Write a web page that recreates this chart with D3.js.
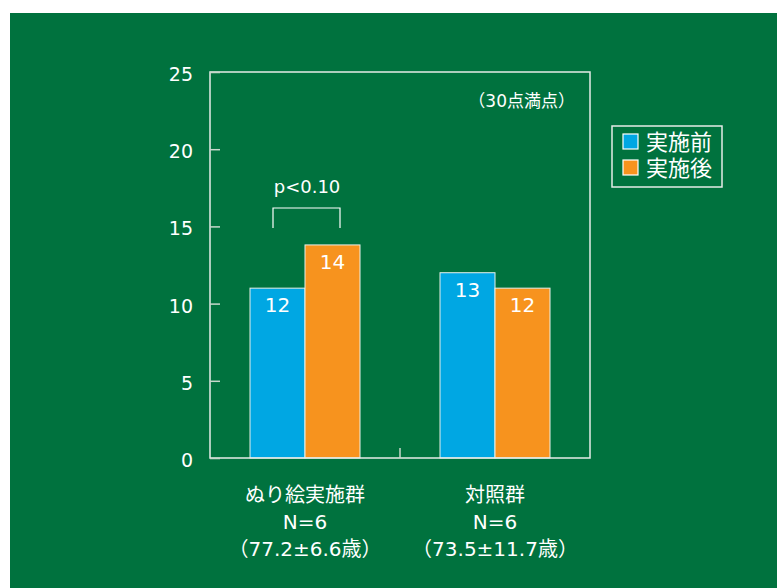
<!DOCTYPE html>
<html>
<head>
<meta charset="utf-8">
<script src="https://cdn.jsdelivr.net/npm/d3@7"></script>
<style>
  body { margin: 0; background: #fff; }
  text { font-family: "DejaVu Sans", "Noto Sans CJK JP", sans-serif; fill: #fff; }
</style>
</head>
<body>
<script>
// data
var groups = ["ぬり絵実施群", "対照群"];
var groupN = ["N=6", "N=6"];
var groupAge = ["（77.2±6.6歳）", "（73.5±11.7歳）"];
var series = ["実施前", "実施後"];
var values = [[11, 13.8], [12, 11]];
var labels = [["12", "14"], ["13", "12"]];
var yTicks = [0, 5, 10, 15, 20, 25];
var colors = ["#00a7e3", "#f7931e"];

var width = 777, height = 588;
var margin = {left: 210, top: 72, right: 590, bottom: 458};

var svg = d3.select("body").append("svg")
    .attr("width", width)
    .attr("height", height);

svg.append("rect")
    .attr("x", 10).attr("y", 13)
    .attr("width", width - 10).attr("height", height - 13)
    .attr("fill", "#00723e");

var x = d3.scaleBand().domain(groups).range([margin.left, margin.right]);
var xi = d3.scaleBand().domain(series).range([0, 110]);
var y = d3.scaleLinear().domain([0, 25]).range([margin.bottom, margin.top]);

// bars
var g = svg.append("g").selectAll("g")
    .data(groups)
    .enter().append("g")
    .attr("transform", function(d) { return "translate(" + (x(d) + x.bandwidth() / 2 - 55) + ",0)"; });

g.each(function(d, i) {
    d3.select(this).selectAll("rect")
        .data(series)
        .enter().append("rect")
        .attr("x", function(s) { return xi(s); })
        .attr("y", function(s, j) { return y(values[i][j]); })
        .attr("width", xi.bandwidth())
        .attr("height", function(s, j) { return y(0) - y(values[i][j]); })
        .attr("fill", function(s, j) { return colors[j]; })
        .attr("stroke", "#e8f0ea")
        .attr("stroke-width", 1);

    d3.select(this).selectAll("text.val")
        .data(series)
        .enter().append("text")
        .attr("class", "val")
        .attr("x", function(s) { return xi(s) + xi.bandwidth() / 2; })
        .attr("y", function(s, j) { return y(values[i][j]) + 24; })
        .attr("text-anchor", "middle")
        .style("font-size", "20px")
        .text(function(s, j) { return labels[i][j]; });
});

// frame
svg.append("rect")
    .attr("x", margin.left).attr("y", margin.top)
    .attr("width", margin.right - margin.left)
    .attr("height", margin.bottom - margin.top)
    .attr("fill", "none")
    .attr("stroke", "#e6ece8")
    .attr("stroke-width", 1.5);

// y axis
var yAxis = d3.axisLeft(y).tickValues(yTicks).tickSize(-10).tickPadding(17);
var ya = svg.append("g")
    .attr("transform", "translate(" + margin.left + ",0)")
    .call(yAxis);
ya.select(".domain").remove();
ya.selectAll("line").attr("stroke", "#c8d8cc").attr("stroke-width", 1.5);
ya.selectAll("text").style("font-size", "19px").attr("fill", "#fff").attr("dy", "0.45em");

// middle tick on x
svg.append("line")
    .attr("x1", (margin.left + margin.right) / 2).attr("x2", (margin.left + margin.right) / 2)
    .attr("y1", margin.bottom).attr("y2", margin.bottom - 10)
    .attr("stroke", "#c8d8cc").attr("stroke-width", 1.5);

// x labels
var xl = svg.append("g").selectAll("text")
    .data(groups)
    .enter().append("text")
    .attr("text-anchor", "middle")
    .attr("x", function(d) { return x(d) + x.bandwidth() / 2; })
    .attr("y", 502)
    .style("font-size", "20px");
xl.append("tspan").text(function(d) { return d; });
xl.append("tspan").attr("x", function(d) { return x(d) + x.bandwidth() / 2; })
    .attr("dy", 27).text(function(d, i) { return groupN[i]; });
xl.append("tspan").attr("x", function(d) { return x(d) + x.bandwidth() / 2; })
    .attr("dy", 27).text(function(d, i) { return groupAge[i]; });

// note
svg.append("text")
    .attr("x", 575).attr("y", 107)
    .attr("text-anchor", "end")
    .style("font-size", "17px")
    .text("（30点満点）");

// significance bracket
var cx = x(groups[0]) + x.bandwidth() / 2;
svg.append("path")
    .attr("d", "M" + (cx - 32) + "," + 228 + "V" + 208 + "H" + (cx + 35) + "V" + 228)
    .attr("fill", "none")
    .attr("stroke", "#fff")
    .attr("stroke-width", 1.2);
svg.append("text")
    .attr("x", cx + 2).attr("y", 193)
    .attr("text-anchor", "middle")
    .style("font-size", "18px")
    .text("p<0.10");

// legend
var lg = svg.append("g").attr("transform", "translate(612,126)");
lg.append("rect")
    .attr("width", 110).attr("height", 61)
    .attr("fill", "none")
    .attr("stroke", "#e6ece8")
    .attr("stroke-width", 1.5);
var li = lg.selectAll("g")
    .data(series)
    .enter().append("g")
    .attr("transform", function(d, i) { return "translate(11," + (8 + i * 26) + ")"; });
li.append("rect")
    .attr("width", 15).attr("height", 15)
    .attr("fill", function(d, i) { return colors[i]; })
    .attr("stroke", "#fff").attr("stroke-width", 1.2);
li.append("text")
    .attr("x", 23).attr("y", 16)
    .style("font-size", "22px")
    .text(function(d) { return d; });
</script>
</body>
</html>
